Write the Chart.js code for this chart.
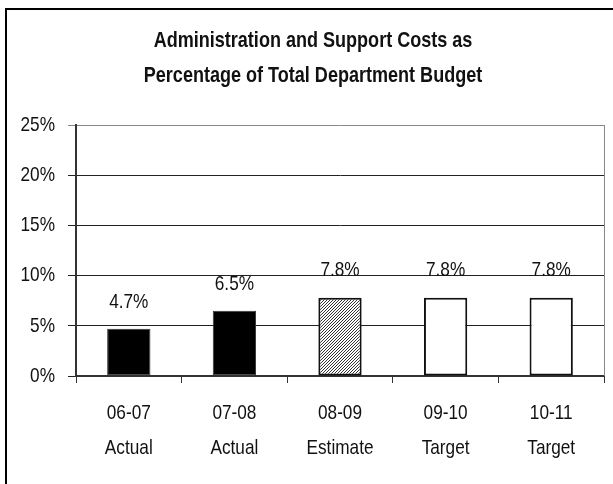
<!DOCTYPE html>
<html>
<head>
<meta charset="utf-8">
<script src="https://cdn.jsdelivr.net/npm/chart.js@4.4.1/dist/chart.umd.min.js"></script>
<style>
  html, body { margin: 0; padding: 0; background: #fff; overflow: hidden; }
  #wrap { width: 613px; height: 484px; }
</style>
</head>
<body>
<div id="wrap"><canvas id="costChart" width="613" height="484"></canvas></div>
<script>
// dados do gráfico
const years = ['06-07', '07-08', '08-09', '09-10', '10-11'];
const phases = ['Actual', 'Actual', 'Estimate', 'Target', 'Target'];
const costPct = [4.7, 6.5, 7.8, 7.8, 7.8];
const yTicks = [0, 5, 10, 15, 20, 25];
const chartTitle = ['Administration and Support Costs as', 'Percentage of Total Department Budget'];

// fonte "estreita": Liberation Sans comprimida na horizontal
const FONT = '"Liberation Sans", Arial, sans-serif';
const NARROW = 0.82;

function narrowText(ctx, text, x, y, align) {
  ctx.save();
  ctx.translate(x, y);
  ctx.scale(NARROW, 1);
  ctx.textAlign = align;
  ctx.textBaseline = 'middle';
  ctx.fillText(text, 0, 0);
  ctx.restore();
}

// padrão hachurado para a estimativa
function makeHatch() {
  const c = document.createElement('canvas');
  c.width = 3; c.height = 3;
  const g = c.getContext('2d');
  g.fillStyle = '#fff';
  g.fillRect(0, 0, 3, 3);
  g.fillStyle = '#333';
  g.fillRect(0, 2, 1, 1);
  g.fillRect(1, 1, 1, 1);
  g.fillRect(2, 0, 1, 1);
  return g.createPattern(c, 'repeat');
}
const hatch = makeHatch();

const fills = phases.map(p => p === 'Actual' ? '#000' : (p === 'Estimate' ? hatch : '#fff'));
const borders = phases.map(p => p === 'Actual' ? '#333' : '#111');
const borderWidths = phases.map(p => p === 'Actual' ? 1 : 2);

// moldura, borda direita e título
const framePlugin = {
  id: 'frame',
  beforeDraw(chart) {
    const ctx = chart.ctx;
    ctx.save();
    ctx.fillStyle = '#fff';
    ctx.fillRect(0, 0, chart.width, chart.height);
    ctx.strokeStyle = '#000';
    ctx.lineWidth = 2;
    ctx.beginPath();
    ctx.moveTo(6, chart.height + 2);
    ctx.lineTo(6, 9);
    ctx.lineTo(chart.width + 2, 9);
    ctx.stroke();

    ctx.fillStyle = '#111';
    ctx.font = 'bold 22px ' + FONT;
    chartTitle.forEach((line, i) => narrowText(ctx, line, 313, 41 + i * 35, 'center'));
    ctx.restore();
  },
  afterDraw(chart) {
    const a = chart.chartArea;
    const ctx = chart.ctx;
    ctx.save();
    ctx.strokeStyle = '#888';
    ctx.lineWidth = 1;
    ctx.beginPath();
    ctx.moveTo(a.right + 0.5, a.top);
    ctx.lineTo(a.right + 0.5, a.bottom);
    ctx.stroke();
    ctx.restore();
  }
};

// rótulos dos eixos e valores acima das barras
const textPlugin = {
  id: 'texts',
  afterDatasetsDraw(chart) {
    const ctx = chart.ctx;
    const xs = chart.scales.x;
    const ys = chart.scales.y;
    ctx.save();
    ctx.fillStyle = '#111';
    ctx.font = '21px ' + FONT;

    yTicks.forEach(v => {
      narrowText(ctx, v + '%', ys.right - 21, ys.getPixelForValue(v), 'right');
    });

    years.forEach((y, i) => {
      const x = xs.getPixelForValue(i);
      narrowText(ctx, y, x, xs.top + 37, 'center');
      narrowText(ctx, phases[i], x, xs.top + 72, 'center');
    });

    const meta = chart.getDatasetMeta(0);
    meta.data.forEach((bar, i) => {
      narrowText(ctx, costPct[i].toFixed(1) + '%', bar.x, bar.y - 27, 'center');
    });
    ctx.restore();
  }
};

new Chart(document.getElementById('costChart'), {
  type: 'bar',
  data: {
    labels: years.map((y, i) => y + ' ' + phases[i]),
    datasets: [{
      data: costPct,
      backgroundColor: fills,
      borderColor: borders,
      borderWidth: borderWidths,
      borderSkipped: false,
      categoryPercentage: 1,
      barPercentage: 0.41
    }]
  },
  options: {
    responsive: false,
    animation: false,
    layout: { padding: { left: 0, right: 9, top: 125, bottom: 0 } },
    plugins: {
      legend: { display: false },
      tooltip: { enabled: false },
      title: { display: false }
    },
    scales: {
      x: {
        afterFit: s => { s.height = 108; },
        grid: { drawOnChartArea: false, drawTicks: true, tickLength: 7, color: '#333', offset: true },
        border: { color: '#333', width: 2 },
        ticks: { display: false }
      },
      y: {
        min: 0,
        max: 25,
        afterFit: s => { s.width = 76; },
        afterBuildTicks: s => { s.ticks = yTicks.map(v => ({ value: v })); },
        grid: {
          color: ctx => ctx.tick && ctx.tick.value === 25 ? '#888' : '#222',
          lineWidth: 1,
          tickLength: 8
        },
        border: { color: '#333', width: 2 },
        ticks: { display: false }
      }
    }
  },
  plugins: [framePlugin, textPlugin]
});
</script>
</body>
</html>
